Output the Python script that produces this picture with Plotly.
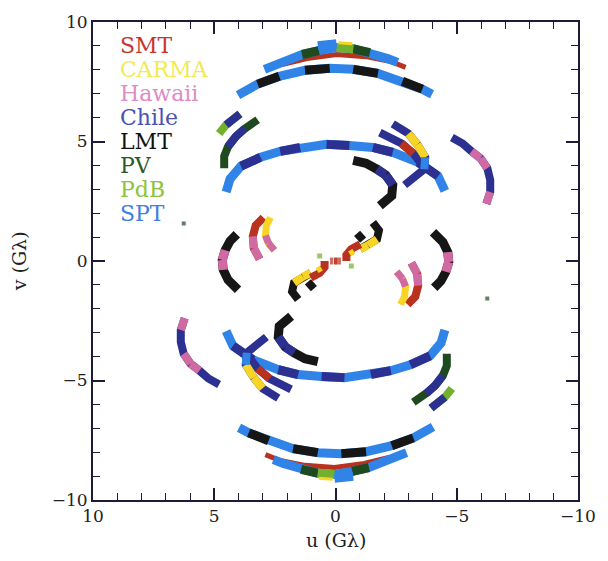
import plotly.graph_objects as go
from collections import Counter

# ---- station colours ----
COLORS = {
    "red": "#b8321f",      # SMT
    "yellow": "#f8d424",   # CARMA
    "pink": "#d06aa2",     # Hawaii
    "dkblue": "#2c3090",   # Chile
    "black": "#161616",    # LMT
    "dkgreen": "#1f4a20",  # PV
    "pdb": "#72b02e",      # PdB
    "blue": "#3084e8",     # SPT
}

legend_names = ["SMT", "CARMA", "Hawaii", "Chile", "LMT", "PV", "PdB", "SPT"]
legend_colors = ["#c8352e", "#f2ea55", "#e08cc4", "#4a52b4", "#111111", "#2d5a2a", "#8cc43e", "#3f80e0"]
legend_v = [9, 8, 7, 6, 5, 4, 3, 2]

# ---- uv tracks (one half; conjugate points (-u,-v) are drawn as well) ----
t1b_u = [2.20, 1.18, -0.04, -1.26, -2.28, -2.89]
t1b_v = [8.22, 8.47, 8.64, 8.55, 8.35, 8.10]
t1b_c = ["red"] * 5

t1a_u = [2.93, 2.07, 1.38, 0.69, -0.04, -0.73, -1.42, -2.15, -2.56]
t1a_v = [8.02, 8.39, 8.64, 8.80, 8.93, 8.88, 8.72, 8.47, 8.31]
t1a_c = ["blue", "blue", "dkgreen", "blue", "pdb", "dkgreen", "blue", "blue"]

t1c_u = [0.73, -0.04]
t1c_v = [9.01, 9.09]
t1c_c = ["blue"]

t1d_u = [-0.12, -0.69]
t1d_v = [9.13, 9.09]
t1d_c = ["yellow"]

t2_u = [4.02, 3.21, 2.32, 1.26, 0.24, -0.73, -1.75, -2.76, -3.58, -3.98]
t2_v = [6.94, 7.40, 7.73, 7.98, 8.06, 8.02, 7.85, 7.52, 7.19, 6.98]
t2_c = ["blue", "black", "blue", "black", "blue", "black", "blue", "black", "blue"]

t3_u = [4.51, 4.35, 3.90, 3.09, 2.28, 1.46, 0.37, -0.57, -1.54, -2.36, -3.41, -4.23, -4.51]
t3_v = [2.89, 3.43, 3.97, 4.34, 4.59, 4.75, 4.88, 4.83, 4.75, 4.55, 4.13, 3.55, 2.93]
t3_c = ["blue", "blue", "dkblue", "blue", "dkblue", "blue", "dkblue", "blue", "dkblue", "blue", "dkblue", "blue"]

t4_u = [4.80, 4.51, 3.94]
t4_v = [5.33, 5.70, 6.16]
t4_c = ["pdb", "dkblue"]

t5_u = [4.59, 4.59, 4.43, 4.11, 3.74, 3.21]
t5_v = [3.88, 4.38, 4.79, 5.21, 5.54, 5.91]
t5_c = ["dkgreen", "dkgreen", "dkblue", "dkblue", "dkgreen"]

t6_u = [-0.73, -1.26, -1.71, -2.07, -2.36, -2.32, -1.83]
t6_v = [4.21, 4.09, 3.84, 3.60, 3.18, 2.73, 2.31]
t6_c = ["black", "black", "dkblue", "dkblue", "black", "black"]

t7_u = [-1.83, -2.28, -2.72, -3.21, -3.54]
t7_v = [5.37, 5.17, 4.92, 4.50, 4.05]
t7_c = ["dkblue", "dkblue", "red", "dkblue"]

t8_u = [-2.36, -3.01, -3.37, -3.70, -3.66, -3.21, -2.85]
t8_v = [5.74, 5.33, 4.88, 4.34, 3.84, 3.47, 3.18]
t8_c = ["dkblue", "yellow", "yellow", "blue", "dkblue", "dkblue"]

t9_u = [-4.80, -5.24, -5.61, -5.98, -6.26, -6.38, -6.38, -6.22]
t9_v = [5.17, 4.92, 4.59, 4.30, 3.88, 3.39, 2.89, 2.40]
t9_c = ["dkblue", "dkblue", "pink", "pink", "dkblue", "dkblue", "pink"]

l1_u = [2.97, 3.29, 3.41, 3.37, 3.13]
l1_v = [1.82, 1.49, 1.03, 0.54, 0.08]
l1_c = ["red", "red", "pink", "pink"]

l2_u = [2.68, 2.85, 2.89, 2.76, 2.52]
l2_v = [1.82, 1.49, 1.07, 0.74, 0.45]
l2_c = ["yellow", "yellow", "pink", "pink"]

lb_u = [4.07, 4.35, 4.55, 4.67, 4.63, 4.43, 4.02]
lb_v = [1.12, 0.83, 0.45, 0.04, -0.37, -0.79, -1.20]
lb_c = ["black", "black", "pink", "pink", "black", "black"]

c1_u = [-1.54, -1.79, -1.71, -1.34, -1.02]
c1_v = [1.61, 1.28, 0.91, 0.66, 0.50]
c1_c = ["black", "black", "yellow", "yellow"]

c2_u = [-0.89, -1.14]
c2_v = [1.16, 0.87]
c2_c = ["black"]

c3_u = [-1.02, -0.65, -0.45, -0.45]
c3_v = [0.70, 0.50, 0.25, 0.00]
c3_c = ["red", "red", "red"]

c4_u = [-0.61, -0.73]
c4_v = [0.45, 0.25]
c4_c = ["yellow"]

tracks = [
    (t1b_u, t1b_v, t1b_c, 5),
    (t1a_u, t1a_v, t1a_c, 9),
    (t1c_u, t1c_v, t1c_c, 9),
    (t1d_u, t1d_v, t1d_c, 3),
    (t2_u, t2_v, t2_c, 9),
    (t3_u, t3_v, t3_c, 9),
    (t4_u, t4_v, t4_c, 8),
    (t5_u, t5_v, t5_c, 8),
    (t6_u, t6_v, t6_c, 9),
    (t7_u, t7_v, t7_c, 8),
    (t8_u, t8_v, t8_c, 8),
    (t9_u, t9_v, t9_c, 8),
    (l1_u, l1_v, l1_c, 8),
    (l2_u, l2_v, l2_c, 7),
    (lb_u, lb_v, lb_c, 9),
    (c1_u, c1_v, c1_c, 8),
    (c2_u, c2_v, c2_c, 8),
    (c3_u, c3_v, c3_c, 8),
    (c4_u, c4_v, c4_c, 5),
]

# isolated points
dot_u = [0.08, -0.65, 6.26]
dot_v = [0.00, -0.21, 1.57]
dot_c = ["red", "pdb", "dkgreen"]
dot_s = [8, 6, 5]

fig = go.Figure()

for u, v, cols, w in tracks:
    # continuous underlay so that piece joints have no gaps
    base = Counter(cols).most_common(1)[0][0]
    fig.add_trace(go.Scatter(
        x=list(u) + [None] + [-a for a in u], y=list(v) + [None] + [-b for b in v],
        mode="lines", line=dict(color=COLORS[base], width=w),
        showlegend=False, hoverinfo="skip"))
    groups = {}
    for i, c in enumerate(cols):
        xs, ys = groups.setdefault(c, ([], []))
        xs += [u[i], u[i + 1], None, -u[i], -u[i + 1], None]
        ys += [v[i], v[i + 1], None, -v[i], -v[i + 1], None]
    for c, (xs, ys) in groups.items():
        if c == base:
            continue
        fig.add_trace(go.Scatter(x=xs, y=ys, mode="lines",
                                 line=dict(color=COLORS[c], width=w),
                                 showlegend=False, hoverinfo="skip"))

fig.add_trace(go.Scatter(
    x=dot_u + [-a for a in dot_u], y=dot_v + [-b for b in dot_v], mode="markers",
    marker=dict(color=[COLORS[c] for c in dot_c] * 2, size=dot_s * 2, symbol="square"),
    showlegend=False, hoverinfo="skip"))

FONT = "DejaVu Serif"

for name, col, vv in zip(legend_names, legend_colors, legend_v):
    fig.add_annotation(x=8.95, y=vv, xref="x", yref="y", text=name, showarrow=False,
                       xanchor="left", yanchor="middle",
                       font=dict(family=FONT, size=22, color=col))

fig.add_annotation(x=0.5, y=-0.083, xref="paper", yref="paper", text="u (Gλ)",
                   showarrow=False, xanchor="center", yanchor="middle",
                   font=dict(family=FONT, size=19, color="#222"))
fig.add_annotation(x=-0.152, y=0.5, xref="paper", yref="paper", text="v (Gλ)",
                   showarrow=False, xanchor="center", yanchor="middle", textangle=-90,
                   font=dict(family=FONT, size=19, color="#222"))

axis_common = dict(
    tickmode="linear", tick0=0, dtick=5,
    ticks="inside", ticklen=12, tickwidth=1.5, tickcolor="#1c1c3a",
    showline=True, linecolor="#1c1c3a", linewidth=2, mirror="ticks",
    showgrid=False, zeroline=False,
    minor=dict(dtick=1, tick0=0, ticks="inside", ticklen=7, tickwidth=1.2, tickcolor="#1c1c3a", showgrid=False),
    tickfont=dict(family=FONT, size=17, color="#222"),
)

fig.update_xaxes(range=[10, -10], **axis_common)
fig.update_yaxes(range=[-10, 10], **axis_common)

fig.update_layout(
    width=608, height=561,
    margin=dict(l=93, r=23, t=16, b=61),
    plot_bgcolor="white", paper_bgcolor="white",
)

fig.write_html("out.html")
